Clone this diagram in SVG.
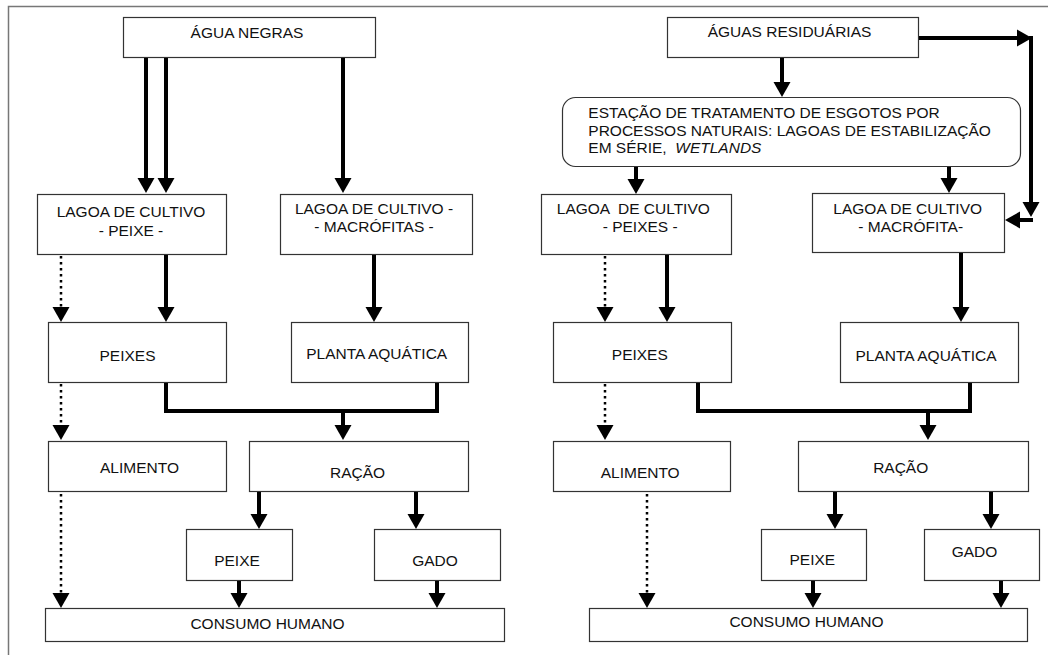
<svg xmlns="http://www.w3.org/2000/svg" width="1048" height="655" viewBox="0 0 1048 655">
  <style>
    .box { fill: #fff; stroke: #333; stroke-width: 1.2; }
    .lbl { font-family: "Liberation Sans", Arial, sans-serif; font-size: 15.5px; fill: #111; text-anchor: middle; white-space: pre; }
    .lft { text-anchor: start; }
    .it { font-style: italic; }
    .flow { stroke: #000; stroke-width: 4; fill: none; }
    .arr { marker-end: url(#head); }
    .dot { stroke: #000; stroke-width: 2.5; stroke-dasharray: 2.5 3.5; fill: none; marker-end: url(#head); }
  </style>
  <defs>
    <marker id="head" markerUnits="userSpaceOnUse" markerWidth="15" markerHeight="17" refX="0" refY="8.5" orient="auto" overflow="visible">
      <path d="M0,0 L15,8.5 L0,17 Z" fill="#000"/>
    </marker>
  </defs>
  <rect width="1048" height="655" fill="#fff"/>
  <!-- frame -->
  <path d="M8.5,655 V6.5 H1048" fill="none" stroke="#777" stroke-width="1.5"/>

  <!-- left scheme -->
  <g id="agua-negras"><rect class="box" x="123.5" y="17.5" width="252" height="40"/><text class="lbl" x="247" y="37.5">ÁGUA NEGRAS</text></g>
  <g id="lagoa-peixe"><rect class="box" x="37.5" y="194.5" width="189" height="60"/><text class="lbl" x="131" y="217.3">LAGOA DE CULTIVO</text><text class="lbl" x="131" y="235.7">- PEIXE -</text></g>
  <g id="lagoa-macrofitas"><rect class="box" x="280.5" y="194.5" width="192" height="60"/><text class="lbl" x="374" y="214">LAGOA DE CULTIVO -</text><text class="lbl" x="374" y="232.3">- MACRÓFITAS -</text></g>
  <g id="peixes-l"><rect class="box" x="48.5" y="322.5" width="178" height="60"/><text class="lbl" x="127.5" y="361">PEIXES</text></g>
  <g id="planta-l"><rect class="box" x="291.5" y="322.5" width="177" height="60"/><text class="lbl" x="376.7" y="359.3">PLANTA AQUÁTICA</text></g>
  <g id="alimento-l"><rect class="box" x="48.5" y="441.5" width="178" height="50"/><text class="lbl" x="139.5" y="473.3">ALIMENTO</text></g>
  <g id="racao-l"><rect class="box" x="249.5" y="441.5" width="219" height="50"/><text class="lbl" x="357.5" y="477.7">RAÇÃO</text></g>
  <g id="peixe-l"><rect class="box" x="186.5" y="529.5" width="106" height="51"/><text class="lbl" x="237" y="566">PEIXE</text></g>
  <g id="gado-l"><rect class="box" x="374.5" y="529.5" width="126" height="51"/><text class="lbl" x="435" y="566">GADO</text></g>
  <g id="consumo-l"><rect class="box" x="45.5" y="608.5" width="459" height="33"/><text class="lbl" x="267.5" y="628.7">CONSUMO HUMANO</text></g>

  <!-- right scheme -->
  <g id="aguas-residuarias"><rect class="box" x="667.5" y="17.5" width="251" height="40"/><text class="lbl" x="789.5" y="36.7">ÁGUAS RESIDUÁRIAS</text></g>
  <g id="estacao"><rect class="box" x="562.5" y="97.5" width="458" height="69" rx="13" ry="13"/>
    <text class="lbl lft" x="588.3" y="118.3">ESTAÇÃO DE TRATAMENTO DE ESGOTOS POR</text>
    <text class="lbl lft" x="588.3" y="136">PROCESSOS NATURAIS: LAGOAS DE ESTABILIZAÇÃO</text>
    <text class="lbl lft" x="588.3" y="153.3">EM SÉRIE,  <tspan class="it">WETLANDS</tspan></text></g>
  <g id="lagoa-peixes"><rect class="box" x="541.5" y="194.5" width="190" height="60"/><text class="lbl" x="633.3" y="214">LAGOA  DE CULTIVO</text><text class="lbl" x="640.2" y="231.7">- PEIXES -</text></g>
  <g id="lagoa-macrofita"><rect class="box" x="812.5" y="193.5" width="192" height="59"/><text class="lbl" x="907.7" y="214">LAGOA DE CULTIVO</text><text class="lbl" x="910.7" y="231.7">- MACRÓFITA-</text></g>
  <g id="peixes-r"><rect class="box" x="553.5" y="322.5" width="178" height="60"/><text class="lbl" x="639.8" y="360">PEIXES</text></g>
  <g id="planta-r"><rect class="box" x="840.5" y="322.5" width="178" height="60"/><text class="lbl" x="926" y="361">PLANTA AQUÁTICA</text></g>
  <g id="alimento-r"><rect class="box" x="553.5" y="441.5" width="177" height="50"/><text class="lbl" x="640.2" y="477.7">ALIMENTO</text></g>
  <g id="racao-r"><rect class="box" x="798.5" y="441.5" width="230" height="50"/><text class="lbl" x="900.7" y="472.7">RAÇÃO</text></g>
  <g id="peixe-r"><rect class="box" x="761.5" y="529.5" width="105" height="51"/><text class="lbl" x="812.3" y="565.3">PEIXE</text></g>
  <g id="gado-r"><rect class="box" x="924.5" y="529.5" width="115" height="51"/><text class="lbl" x="974.5" y="557">GADO</text></g>
  <g id="consumo-r"><rect class="box" x="589.5" y="608.5" width="438" height="33"/><text class="lbl" x="806.5" y="626.7">CONSUMO HUMANO</text></g>

  <!-- connectors -->
  <g id="connectors">
    <line class="flow arr" x1="146" y1="58" x2="146" y2="178"/>
    <line class="flow arr" x1="166" y1="58" x2="166" y2="178"/>
    <line class="flow arr" x1="343" y1="58" x2="343" y2="178"/>
    <line class="dot" x1="61" y1="256" x2="61" y2="307"/>
    <line class="flow arr" x1="166" y1="255" x2="166" y2="307"/>
    <line class="flow arr" x1="374" y1="255" x2="374" y2="307"/>
    <path class="flow" d="M166,383 V411 H437 V383"/>
    <line class="flow arr" x1="343" y1="411" x2="343" y2="425"/>
    <line class="dot" x1="61" y1="384" x2="61" y2="425"/>
    <line class="flow arr" x1="259" y1="492" x2="259" y2="514"/>
    <line class="flow arr" x1="416" y1="492" x2="416" y2="514"/>
    <line class="dot" x1="61" y1="494" x2="61" y2="593"/>
    <line class="flow arr" x1="239" y1="581" x2="239" y2="593"/>
    <line class="flow arr" x1="437" y1="581" x2="437" y2="593"/>

    <line class="flow arr" x1="782" y1="58" x2="782" y2="82"/>
    <line class="flow arr" x1="919" y1="38" x2="1017" y2="38"/>
    <line class="flow arr" x1="1031" y1="36" x2="1031" y2="202"/>
    <line class="flow arr" x1="1033" y1="220" x2="1020" y2="220"/>
    <line class="flow arr" x1="636" y1="167" x2="636" y2="179"/>
    <line class="flow arr" x1="949" y1="167" x2="949" y2="178"/>
    <line class="dot" x1="605" y1="256" x2="605" y2="307"/>
    <line class="flow arr" x1="667" y1="255" x2="667" y2="307"/>
    <line class="flow arr" x1="961" y1="253" x2="961" y2="307"/>
    <path class="flow" d="M698,383 V411 H970 V383"/>
    <line class="flow arr" x1="928" y1="411" x2="928" y2="425"/>
    <line class="dot" x1="605" y1="384" x2="605" y2="425"/>
    <line class="flow arr" x1="835" y1="492" x2="835" y2="514"/>
    <line class="flow arr" x1="991" y1="492" x2="991" y2="514"/>
    <line class="dot" x1="647" y1="494" x2="647" y2="593"/>
    <line class="flow arr" x1="813" y1="581" x2="813" y2="593"/>
    <line class="flow arr" x1="1001" y1="581" x2="1001" y2="593"/>
  </g>
</svg>
